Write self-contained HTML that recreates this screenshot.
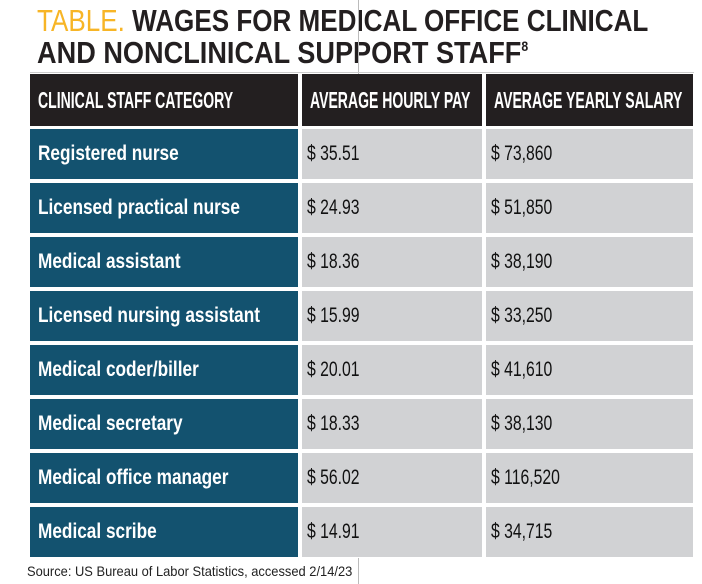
<!DOCTYPE html>
<html><head><meta charset="utf-8">
<style>
body{margin:0;width:702px;height:584px;background:#fff;position:relative;overflow:hidden;font-family:"Liberation Sans",sans-serif;}
.tl{position:absolute;left:37px;font-size:31px;font-weight:bold;color:#231f20;white-space:nowrap;transform-origin:0 0;line-height:32px;}
.tl .t{color:#f7b526;font-weight:normal;}
.tl sup{font-size:14px;vertical-align:top;line-height:18px;}
.vline{position:absolute;left:358px;width:1px;background:#bbb;}
.hline{position:absolute;left:30px;width:664px;top:72px;height:1px;background:#ccc;}
.cell{position:absolute;display:flex;align-items:center;box-sizing:border-box;padding-left:8px;font-size:20px;white-space:nowrap;}
.cell span{display:inline-block;transform-origin:0 50%;}
.hd{background:#231f20;color:#fff;font-weight:bold;font-size:23px;}
.hd span{transform:scaleX(0.61);}
.lab{background:#13526f;color:#fff;font-weight:bold;font-size:21px;}
.lab span{transform:scaleX(0.82);}
.val{background:#d1d2d4;color:#111;padding-left:5px;font-size:21px;}
.val span{transform:scaleX(0.75);}
.src{position:absolute;left:27px;top:563px;font-size:14px;color:#222;white-space:nowrap;transform-origin:0 0;}
</style></head><body>
<div class="tl" id="t1" style="top:5px"><span class="t">TABLE.</span> WAGES FOR MEDICAL OFFICE CLINICAL</div>
<div class="tl" id="t2" style="top:37px">AND NONCLINICAL SUPPORT STAFF<sup>8</sup></div>
<div class="vline" style="top:0;height:98px"></div>
<div class="vline" style="top:558px;height:26px"></div>
<div class="hline"></div>
<div id="tbl"></div>
<div class="src" id="src">Source: US Bureau of Labor Statistics, accessed 2/14/23</div>
<script>
const categories=["Registered nurse","Licensed practical nurse","Medical assistant","Licensed nursing assistant","Medical coder/biller","Medical secretary","Medical office manager","Medical scribe"];
const hourly=["$ 35.51","$ 24.93","$ 18.36","$ 15.99","$ 20.01","$ 18.33","$ 56.02","$ 14.91"];
const yearly=["$ 73,860","$ 51,850","$ 38,190","$ 33,250","$ 41,610","$ 38,130","$ 116,520","$ 34,715"];
const headers=["CLINICAL STAFF CATEGORY","AVERAGE HOURLY PAY","AVERAGE YEARLY SALARY"];
const cols=[[30,268],[302,180],[486,207]];
const t=document.getElementById('tbl');
function mk(cls,x,y,w,h,txt,name){const d=document.createElement('div');d.className='cell '+cls;
d.style.left=x+'px';d.style.top=y+'px';d.style.width=w+'px';d.style.height=h+'px';
const s=document.createElement('span');s.textContent=txt;d.appendChild(s);


t.appendChild(d);}
headers.forEach((h,i)=>mk('hd',cols[i][0],74,cols[i][1],52,h,'header-'+i));
categories.forEach((c,r)=>{const y=129+r*54;
mk('lab',cols[0][0],y,cols[0][1],50,c,'category-cell');
mk('val',cols[1][0],y,cols[1][1],50,hourly[r],'hourly-cell');
mk('val',cols[2][0],y,cols[2][1],50,yearly[r],'yearly-cell');});
function fit(id,w){const e=document.getElementById(id);e.style.transform='scaleX('+(w/e.offsetWidth)+')';}
fit('t1',611);fit('t2',491);fit('src',325);
</script>
</body></html>
